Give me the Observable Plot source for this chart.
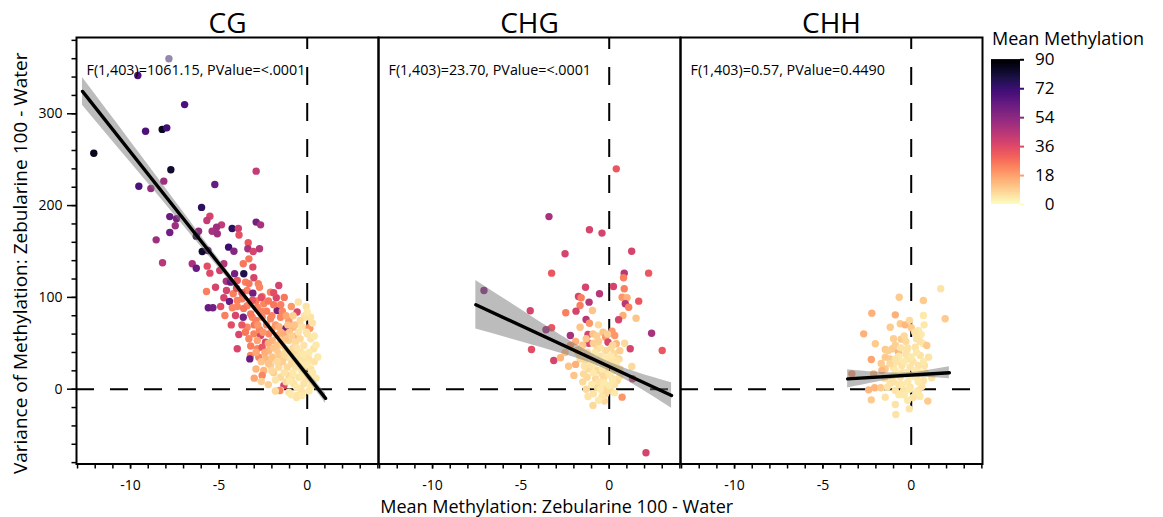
<!DOCTYPE html>
<html><head><meta charset="utf-8">
<script src="https://cdn.jsdelivr.net/npm/d3@7"></script>
<script src="https://cdn.jsdelivr.net/npm/@observablehq/plot@0.6"></script>
<style>
html,body{margin:0;padding:0;background:#fff;}
#wrap{position:relative;width:1163px;height:517px;font-family:"Open Sans",sans-serif;}
#legend{position:absolute;left:985px;top:40px;}
</style></head><body><div id="wrap"><div id="chart"></div><div id="legend"></div></div>
<script>
const panels = ["CG", "CHG", "CHH"];
const annotations = ["F(1,403)=1061.15, PValue=<.0001", "F(1,403)=23.70, PValue=<.0001", "F(1,403)=0.57, PValue=0.4490"];
const xTitle = "Mean Methylation: Zebularine 100 - Water";
const yTitle = "Variance of Methylation: Zebularine 100 - Water";
const legendTitle = "Mean Methylation";
const xMajorTicks = [-10, -5, 0];
const xMinorTicks = [-13, -12, -11, -10, -9, -8, -7, -6, -5, -4, -3, -2, -1, 0, 1, 2, 3, 4];
const yMajorTicks = [0, 100, 200, 300];
const yMinorTicks = [-80, -60, -40, -20, 0, 20, 40, 60, 80, 100, 120, 140, 160, 180, 200, 220, 240, 260, 280, 300, 320, 340, 360, 380];
const legendTicks = [0, 18, 36, 54, 72, 90];

// [mean difference, variance difference, mean methylation]
const cgPoints = [
[-9.59,341.7,68],[-6.94,310,68],[-9.15,281,68],[-8.21,283,85],[-7.95,284.7,70],[-12.08,257,85],[-7.72,239,82],[-2.89,237.5,42],
[-9.53,221,68],[-8.85,218.6,52],[-8.12,226.6,50],[-5.23,223,62],[-5.98,198,75],[-5.51,188.5,38],[-5.68,183.8,42],[-7.78,188,62],
[-7.4,185.6,58],[-7.47,178,50],[-4.85,179,42],[-4.25,175,75],[-3.9,175,40],[-2.89,182,60],[-2.64,179,48],[-5.13,176.5,50],
[-8.55,162.7,50],[-7.78,170.7,60],[-6.15,172,52],[-6.28,166.7,80],[-5.38,172,48],[-5.09,169.3,50],[-3.86,168,34],
[-5.62,151,62],[-5.94,150,82],[-4.45,154.7,72],[-4.15,150.3,55],[-3.34,159.5,32],[-3.36,153,48],[-3.06,150,38],[-2.7,153,45],
[-3.3,142,26],[-3.62,136.6,26],[-3.08,133,36],[-8.19,137.7,45],[-6.51,136.6,48],[-6.28,131.8,62],[-5.66,134,35],[-5.51,126.4,36],
[-4.95,129.3,40],[-4.72,136.6,45],[-4.11,125.7,60],[-3.59,125.7,78],[-3.02,121.4,38],
[-3.49,116.6,24],[-2.77,114.8,24],[-1.61,113,38],[-4.58,117.6,48],[-4.34,116.6,62],[-3.96,118.4,32],[-5.19,111,38],[-5.7,106.4,24],
[-4.57,107.5,38],[-4.19,104,24],[-3.4,107.5,24],[-3.08,104.6,60],[-2.7,111,23],[-2.55,101,23],[-2.08,105.7,23],[-1.75,99.6,37],
[-4.72,99.6,38],[-4.4,95.5,62],[-3.96,96.6,24],[-3.68,98.5,24],[-5.6,88.7,62],[-5.34,88.7,60],[-4.24,88.7,23],[-3.96,90,23],
[-3.4,91,23],[-2.83,89.3,23],[-2.46,93,23],[-1.7,85.7,60],[-1.41,85,23],[-0.57,84,37],[-0.06,90,5],[-0.1,78.4,5],
[-4.66,80.3,24],[-4.06,80.3,37],[-3.62,78.4,60],[-3.11,78.4,23],[-2.55,78.4,23],[-2.08,76.7,23],[-1.51,78.4,23],[-1.04,74.8,20],
[-0.81,67.5,14],[0.09,66.9,23],[-1.23,65.8,60],[0,60.3,5],[-3.4,67.5,23],[-3.87,59.6,37],[-3.02,60.3,23],[-2.64,58.5,37],
[-2.17,60.3,23],[-1.7,58.5,20],[-0.57,58.5,14],[-3.3,54.9,23],[-2.83,53,17],[-2.36,51.2,37],[-1.98,53,14],[-1.51,53,9],
[-1.04,53,9],[-0.66,51.2,7],[-0.19,47.6,5],[0.37,44,5],[-3.96,44,37],[-2.83,44,23],[-2.55,45.8,32],[-2.17,42.2,14],
[-1.7,42.2,9],[-1.23,44,7],[-0.76,40.3,7],[-0.38,40.3,5],[-3.21,36.7,23],[-3.25,33,62],[-2.74,34.9,23],[-2.36,33,14],
[-1.89,33,9],[-1.51,34.9,7],[-1.13,34.9,7],[-0.76,31.3,5],[-0.28,31.3,5],[0.09,33,5],[-2.08,25.8,9],[-1.61,24,7],
[-1.13,24,7],[-0.66,24,5],[-0.19,24,5],[-2.46,20.4,14],[-2.55,15,23],[-2.6,8.4,9],[-1.51,13,7],[-1.04,15,7],
[-0.47,13,5],[0.09,15,5],[-1.32,4,37],[-1.51,-1.4,7],[-1.04,-3.3,5],[-0.57,-6.9,5],[-0.38,0.4,5],[-0.76,5.9,5],
[-0.19,5.9,5],[0.28,7.6,5],[-0.6,-9,5],[-1.57,-1.4,23],[0.19,78.4,5],[-0.14,80,5],[0.15,66.4,20],[-0.04,62,5],
[-2.3,70,23],[-2.0,65,20],[-1.8,70,20],[-1.3,60,17],[-1.0,62,11],[-0.8,45,7],[-0.5,35,5],[-0.3,20,5],
[-0.9,28,7],[-1.4,30,9],[-1.7,48,11],[-2.0,35,11],[-2.4,40,15],[-2.7,65,23],[-3.0,70,26],[-3.2,82,26],
[-2.9,96,26],[-2.3,85,24],[-1.9,92,26],[-1.2,80,17],[-0.7,70,11],[-0.4,55,7],[0.2,55,5],[0.4,30,5],
[0.2,22,5],[-0.1,10,5],[-0.9,12,5],[-1.2,8,7],[-0.3,-3,5],[0.1,-2,4],[-1.9,18,9],[-2.2,28,11],
[-1.5,62,15],[-2.6,100,35],[-3.7,105,32],[-3.3,115,26],[-4.0,110,33],[-1.1,40,9],[-0.6,28,5],[-1.6,38,10],
[-2.2,50,15],[-1.9,45,11],[-1.4,48,9],[-1.2,55,11],[-0.9,58,9],[-0.5,62,5],[-0.3,68,5],[0.3,72,5],
[-0.2,38,4],[0.1,40,4],[-0.6,45,5],[-1.0,36,5],[-1.3,38,7],[-1.7,30,7],[-2.0,20,7],[-1.8,10,5],
[-1.3,18,5],[-0.8,18,4],[-0.4,27,4],[0.0,27,4],[0.3,18,4],[-0.6,2,4],[-1.0,9,4],[-0.3,14,4],
[0.4,58,4],[-2.9,75,24],[-2.6,85,23],[-2.2,96,26],[-1.5,92,24],[-3.6,88,26],[-3.1,97,32],[-2.8,70,20],
[-2.5,62,20],[-3.2,47,24],[-2.9,40,17],[-3.5,62,26],[-2.0,80,23],[-1.6,68,15],[-1.1,70,11],[-0.4,75,7],
[-0.8,80,9],[-0.5,95,5],[0.0,84,4],[-4.3,70,35],[-4.9,90,35],[-3.7,70,32],[-1.9,105,35],[-1.3,100,26],
[-0.9,90,20],[-2.6,30,11],[-2.9,22,14],[-3.0,12,17],[-2.2,5,9],[-1.8,-2,7],[-0.9,-6,4],[-0.3,-7,4],
[0.2,3,4],[0.5,12,4],[0.6,35,4],[0.5,48,4]
];
const cgFaded = [[-7.83,360,75]];

const chgPoints = [
[0.4,240,32],[-3.41,188,48],[-1.12,173.6,38],[-0.41,170,38],[-2.5,147.5,38],[1.27,150.3,38],[-3.26,126.4,32],[0.85,126.4,45],
[2.23,126.4,32],[0.81,121.4,24],[-7.09,107.5,55],[-1.34,111,38],[0.24,111.8,38],[0.85,109.4,24],[-0.55,104,45],[-1.74,101,38],
[-1.59,99.6,24],[-1.14,94.8,45],[0.73,100.2,20],[1.01,99.6,15],[0.91,93,45],[1.1,89.3,24],[1.67,95.9,32],[-1.65,91.2,24],
[-4.47,85.4,38],[-2.46,83.2,24],[-1.88,85,38],[-0.95,85.7,11],[0.78,80.3,15],[1.52,77.3,11],[0.53,75.6,38],[-1.31,75.9,45],
[-1.12,71.9,20],[-1.65,67.5,11],[-0.61,70.1,7],[-3.26,66.9,32],[-3.58,64.7,50],[-2.2,58.5,48],[-1.2,59.6,38],[-0.92,60.3,11],
[-0.35,62,11],[0.16,63.2,20],[0.31,58.5,20],[-0.2,56.6,20],[2.4,61,48],[-1.16,50.1,38],[-0.07,51.2,38],[0.4,49.5,14],
[0.87,50.1,7],[-2.2,47.6,20],[-4.4,43.2,35],[1.19,44,38],[3.0,42.2,32],[-3.14,31.3,38],[-2.76,34.2,14],[-1.73,38.6,7],
[-1.25,40.3,7],[-0.68,44,7],[-0.2,42.2,7],[0.27,38.6,7],[0.55,33,7],[1.28,24.7,7],[1.32,11.3,40],[-1.36,31.3,7],
[-0.88,31.3,7],[-0.41,29.4,7],[0.06,29.4,7],[-1.16,22.2,7],[-0.68,20.4,7],[-0.2,22.2,7],[0.27,20.4,7],[-1.25,13,7],
[-0.77,11.3,7],[-0.3,13,7],[0.18,11.3,7],[0.46,9.5,7],[-0.68,2.2,7],[-0.2,2.2,7],[0.06,-1.4,7],[-1.3,0,7],
[-0.2,-5,7],[0.73,-8.7,20],[-0.92,-17.8,7],[-0.27,-13,7],[2.08,-69.3,38],[-1.45,16.7,7],[-1.65,33,7],[-0.41,16.7,7],
[-1.82,42.2,11],[-0.9,50,9],[-0.5,36,5],[0.1,45,7],[-1.0,26,5],[-0.6,8,5],[0.3,5,5],[-0.9,-5,5],
[-0.4,-8,5],[0.2,30,5],[-1.5,48,11],[-1.9,52,15],[-0.7,58,9],[0.6,22,5],[-2.3,25,11],[-1.9,27,15],
[-0.8,40,4],[-0.5,45,5],[-0.2,34,4],[0.1,36,4],[-1.1,35,5],[-1.4,25,5],[-0.9,18,4],[-0.4,22,4],
[0.0,16,4],[0.4,26,5],[0.6,14,5],[-1.0,5,4],[-0.5,0,4],[0.0,4,4],[0.3,-4,4],[-0.6,-12,4],
[-1.2,-8,5],[-1.5,8,7],[-2.0,15,11],[-1.3,55,11],[-0.6,52,9],[0.2,48,7],[0.6,42,9],[-0.1,60,9],
[-1.6,45,9],[-2.5,40,11],[-0.3,7,4],[0.2,10,4],[-0.8,28,4],[0.45,31,5]
];

const chhPoints = [
[1.67,109.4,5],[-0.68,100.2,10],[0.69,96.6,10],[-2.23,82.8,15],[-0.9,81,15],[0.69,80.3,4],[1.92,76.7,10],[-0.62,71.2,10],
[-0.34,70.1,14],[-1.19,67.5,10],[0,66.9,10],[0.73,70.1,4],[0.41,63.9,4],[-2.69,60.3,15],[0.56,59.6,4],[-0.57,54.5,10],
[-2.03,49.5,10],[0.69,49.5,4],[0.88,47.6,10],[-1.47,43.2,10],[-1.06,44,10],[-0.72,40.3,14],[-0.25,42.2,5],[0.23,45.8,5],
[-2.26,32.4,17],[-1.47,34.9,10],[-1.2,33,10],[-0.15,33,5],[0.51,36.7,5],[0.98,34.9,5],[-1.47,22.2,10],[-1.0,23.3,5],
[-0.53,25.8,5],[-0.06,24,5],[0.41,25.8,5],[0.75,25.8,5],[1.16,12.4,5],[-1.66,20.4,14],[-3.36,16.7,20],[-2.13,16.7,14],
[-1.1,13,5],[-0.62,13,5],[-0.15,15,5],[0.3,13,5],[0.69,9.5,5],[-2.41,-0.7,14],[-2.07,1.5,14],[-1.73,1.5,10],
[-1.36,2.2,5],[-0.9,-1.4,5],[-0.43,-1.4,5],[-0.06,2.2,5],[0.41,-1.4,5],[0.6,3,5],[-2.26,-11.6,10],[-1.47,-8.7,5],
[0.28,-6.1,5],[0.94,-13,10],[-0.9,-16.7,5],[-0.11,-21.4,5],[-0.87,-27.6,5],
[-0.8,30,5],[-0.3,38,5],[0.1,30,5],[-0.5,18,5],[-0.2,8,4],[-0.7,5,5],[0.2,20,4],[-1.2,28,7],
[0.5,18,4],[-0.4,-6,4],[0.1,-9,5],[-1.0,8,5],[-0.3,52,7],[0.3,55,5],[-0.9,48,9],
[-0.7,36,4],[-0.4,30,4],[0.0,35,4],[0.3,40,4],[-0.2,45,5],[-0.6,45,5],[-1.3,42,9],[-0.9,20,4],
[-0.3,18,4],[0.1,14,4],[0.4,8,4],[-0.5,5,4],[-0.1,0,4],[0.3,-3,4],[-0.7,-6,4],[-0.2,-12,4],
[0.5,-8,4],[-1.2,6,5],[-1.5,12,7],[-0.9,33,5],[0.7,30,4],[0.8,18,4],[-0.4,58,7],[0.2,62,5],
[-1.7,28,10],[-1.0,55,9],[0.5,52,5],[-0.1,75,7]
];

// fitted regression line and 95% band
const cgFitX = [-12.72, 1.04], cgFitY = [324.4, -10];
const chgFitX = [-7.55, 3.53], chgFitY = [92.0, -6.9];
const chhFitX = [-3.6, 2.16], chhFitY = [11.3, 17.9];
const cgBandX = [-12.72, -10, -7.5, -5, -2.5, 0, 1.04];
const cgBandLo = [309.4, 246.8, 189.6, 132.0, 73.05, 11.0, -15.5];
const cgBandHi = [339.4, 269.8, 205.6, 141.6, 79.05, 19.6, -4.5];
const chgBandX = [-7.55, -5, -2.5, -0.5, 1.5, 3.53];
const chgBandLo = [65.5, 51.75, 37.9, 24.1, 3.7, -20.9];
const chgBandHi = [118.5, 86.75, 55.9, 34.1, 18.7, 7.1];
const chhBandX = [-3.6, -2, -0.3, 1, 2.16];
const chhBandLo = [1.3, 7.6, 12.6, 12.6, 11.4];
const chhBandHi = [21.3, 18.6, 17.6, 20.6, 24.4];

const toRows = (panel, arr) => arr.map(([x, y, m]) => ({panel, x, y, m}));
const points = [...toRows("CG", cgPoints), ...toRows("CHG", chgPoints), ...toRows("CHH", chhPoints)];
const faded = toRows("CG", cgFaded);
const fitRows = (panel, X, Y) => X.map((x, i) => ({panel, x, y: Y[i]}));
const fits = [...fitRows("CG", cgFitX, cgFitY), ...fitRows("CHG", chgFitX, chgFitY), ...fitRows("CHH", chhFitX, chhFitY)];
const bandRows = (panel, X, L, H) => X.map((x, i) => ({panel, x, lo: L[i], hi: H[i]}));
const bands = [...bandRows("CG", cgBandX, cgBandLo, cgBandHi), ...bandRows("CHG", chgBandX, chgBandLo, chgBandHi), ...bandRows("CHH", chhBandX, chhBandLo, chhBandHi)];
const notes = panels.map((p, i) => ({panel: p, label: annotations[i]}));

const colorScale = {type: "linear", scheme: "magma", reverse: true, domain: [0, 90]};
const fmt = d => String(d);

const chart = Plot.plot({
  width: 1163, height: 517,
  marginLeft: 76, marginRight: 181, marginTop: 37, marginBottom: 53.5,
  style: {fontFamily: "Open Sans, sans-serif", fontSize: "14px", color: "black", background: "white"},
  fx: {domain: panels, padding: 0, axis: null},
  x: {domain: [-13.06, 4.035]},
  y: {domain: [-81.5, 383.1]},
  color: colorScale,
  marks: [
    Plot.ruleX([0], {stroke: "black", strokeWidth: 2, strokeDasharray: "18,18", strokeDashoffset: 6}),
    Plot.ruleY([0], {stroke: "black", strokeWidth: 2, strokeDasharray: "18,16"}),
    Plot.dot(points, {x: "x", y: "y", fill: "m", r: 3.7, fx: "panel"}),
    Plot.dot(faded, {x: "x", y: "y", fill: "m", r: 3.7, fx: "panel", fillOpacity: 0.5}),
    Plot.areaY(bands, {x: "x", y1: "lo", y2: "hi", fx: "panel", z: "panel", fill: "#7a7a7a", fillOpacity: 0.5, curve: "natural"}),
    Plot.line(fits, {x: "x", y: "y", fx: "panel", z: "panel", stroke: "black", strokeWidth: 3.3}),
    Plot.frame({stroke: "black", strokeWidth: 2}),
    Plot.axisY({ticks: yMinorTicks, tickSize: 4.5, strokeWidth: 1.5, text: null, label: null}),
    Plot.axisY({ticks: yMajorTicks, tickSize: 9, tickPadding: 5, strokeWidth: 1.5, fontSize: 14, tickFormat: fmt, label: null}),
    Plot.axisX({ticks: xMinorTicks, tickSize: 5, strokeWidth: 1.5, text: null, label: null}),
    Plot.axisX({ticks: xMajorTicks, tickSize: 5, tickPadding: 11.5, strokeWidth: 1.5, fontSize: 14, tickFormat: fmt, label: null}),
    Plot.text(panels, {fx: d => d, text: d => d, frameAnchor: "top", lineAnchor: "bottom", dy: -5, fontSize: 28}),
    Plot.text(notes, {fx: "panel", text: "label", frameAnchor: "top-left", textAnchor: "start", lineAnchor: "bottom", dx: 10, dy: 37, fontSize: 14.3})
  ]
});
document.getElementById("chart").appendChild(chart);

const svg = d3.select(chart.tagName.toLowerCase() === "svg" ? chart : chart.querySelector("svg"));
svg.append("text").attr("x", 556.7).attr("y", 512.5).attr("text-anchor", "middle")
  .attr("font-size", 18).attr("fill", "black").text(xTitle);
svg.append("text").attr("transform", "translate(26.5,263.3) rotate(-90)").attr("text-anchor", "middle")
  .attr("font-size", 19).attr("fill", "black").text(yTitle);
svg.append("text").attr("x", 992).attr("y", 44.5).attr("text-anchor", "start")
  .attr("font-size", 18).attr("fill", "black").text(legendTitle);

const legendSteps = d3.range(0, 90, 0.5);
const legend = Plot.plot({
  width: 100, height: 184,
  marginLeft: 6, marginRight: 65, marginTop: 19.3, marginBottom: 20,
  style: {fontFamily: "Open Sans, sans-serif", fontSize: "17px", color: "black", background: "transparent"},
  y: {domain: [0, 90], axis: null},
  color: colorScale,
  marks: [
    Plot.rect(legendSteps, {y1: d => d, y2: d => Math.min(90, d + 1), fill: d => d + 0.25}),
    Plot.ruleY(legendTicks, {y: d => d, stroke: d => d, strokeWidth: 2, insetLeft: 29, insetRight: -4}),
    Plot.text(legendTicks, {y: d => d, text: d => String(d), frameAnchor: "right", textAnchor: "end", dx: 34, fontSize: 17})
  ]
});
document.getElementById("legend").appendChild(legend);
</script></body></html>
